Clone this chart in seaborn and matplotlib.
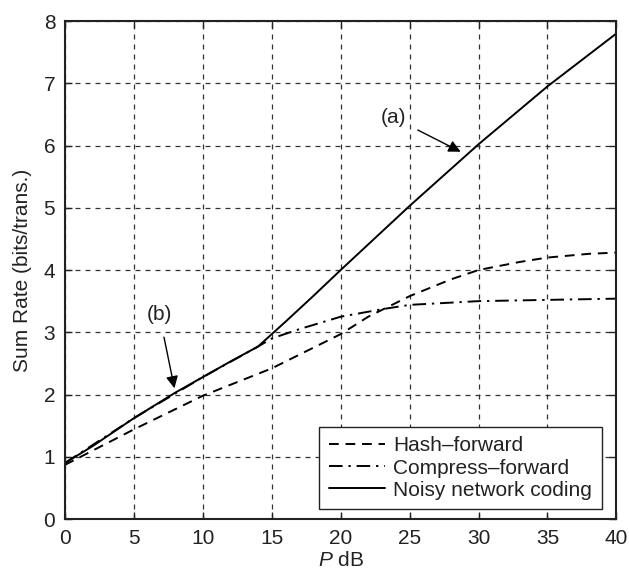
import matplotlib
matplotlib.use("Agg")
import matplotlib.pyplot as plt
import seaborn as sns
import pandas as pd

# ---- data ----
x_hash = [0, 5, 10, 15, 20, 22, 25, 28, 30, 33, 35, 38, 40]
y_hash = [0.87, 1.44, 1.98, 2.42, 2.97, 3.25, 3.58, 3.85, 4.0, 4.13, 4.2, 4.26, 4.28]

x_cf = [0, 5, 10, 14, 15, 17, 20, 23, 25, 30, 35, 40]
y_cf = [0.9, 1.62, 2.28, 2.77, 2.9, 3.05, 3.25, 3.37, 3.44, 3.5, 3.52, 3.54]

x_nnc = [0, 2, 5, 8, 10, 12, 14, 15, 16, 18, 20, 25, 30, 35, 40]
y_nnc = [0.9, 1.17, 1.62, 2.03, 2.28, 2.53, 2.77, 2.97, 3.17, 3.58, 4.0, 5.03, 6.02, 6.95, 7.8]

labels = ["Hash\u2013forward", "Compress\u2013forward", "Noisy network coding"]
x_ticks = [0, 5, 10, 15, 20, 25, 30, 35, 40]
y_ticks = [0, 1, 2, 3, 4, 5, 6, 7, 8]

sns.set_theme(style="white")
plt.rcParams["font.family"] = ["Liberation Sans", "DejaVu Sans"]
plt.rcParams["mathtext.fontset"] = "custom"
plt.rcParams["mathtext.it"] = "Liberation Sans:italic"
plt.rcParams["mathtext.rm"] = "Liberation Sans"

fig = plt.figure(figsize=(6.29, 5.74), dpi=100)
ax = fig.add_axes([0.1033, 0.0958, 0.8767, 0.8676])

df = pd.concat([
    pd.DataFrame({"P": x_hash, "R": y_hash, "scheme": labels[0]}),
    pd.DataFrame({"P": x_cf, "R": y_cf, "scheme": labels[1]}),
    pd.DataFrame({"P": x_nnc, "R": y_nnc, "scheme": labels[2]}),
])

styles = {labels[0]: (0, (5, 3.5)), labels[1]: (0, (7, 3, 1.2, 3)), labels[2]: "-"}
for lab in labels:
    sub = df[df["scheme"] == lab]
    sns.lineplot(data=sub, x="P", y="R", ax=ax, color="black", lw=1.4,
                 linestyle=styles[lab], label=lab, sort=False)

ax.set_xlim(0, 40)
ax.set_ylim(0, 8)
ax.set_xticks(x_ticks)
ax.set_yticks(y_ticks)
ax.tick_params(direction="in", length=5, width=1, colors="#222222", labelsize=15,
               top=True, right=True, bottom=True, left=True, pad=7)
for t in ax.get_xticklabels() + ax.get_yticklabels():
    t.set_color("#222222")
ax.grid(True, color="#333333", linestyle=(0, (4, 4)), linewidth=0.9)
for s in ax.spines.values():
    s.set_color("#222222")
    s.set_linewidth(1.5)
    s.set_visible(True)

ax.set_xlabel("$P$ dB", fontsize=15, color="#222222", labelpad=2)
ax.set_ylabel("Sum Rate (bits/trans.)", fontsize=15, color="#222222", labelpad=8)

leg = ax.legend(loc="lower right", bbox_to_anchor=(0.973, 0.02), fontsize=15,
                frameon=True, fancybox=False, edgecolor="#222222", framealpha=1,
                handlelength=2.7, handletextpad=0.4, borderpad=0.45,
                labelspacing=0.15, borderaxespad=0)
leg.get_frame().set_linewidth(1.0)
for t in leg.get_texts():
    t.set_color("#222222")

ax.annotate("(a)", xy=(28.7, 5.9), xytext=(23.8, 6.45), fontsize=15, color="#222222",
            ha="center", va="center",
            arrowprops=dict(arrowstyle="-|>", color="black", lw=1.0, mutation_scale=18,
                            shrinkA=7, shrinkB=0))
ax.annotate("(b)", xy=(7.94, 2.1), xytext=(6.85, 3.28), fontsize=15, color="#222222",
            ha="center", va="center",
            arrowprops=dict(arrowstyle="-|>", color="black", lw=1.0, mutation_scale=18,
                            shrinkA=7, shrinkB=0))

fig.savefig("out.png", dpi=100)
